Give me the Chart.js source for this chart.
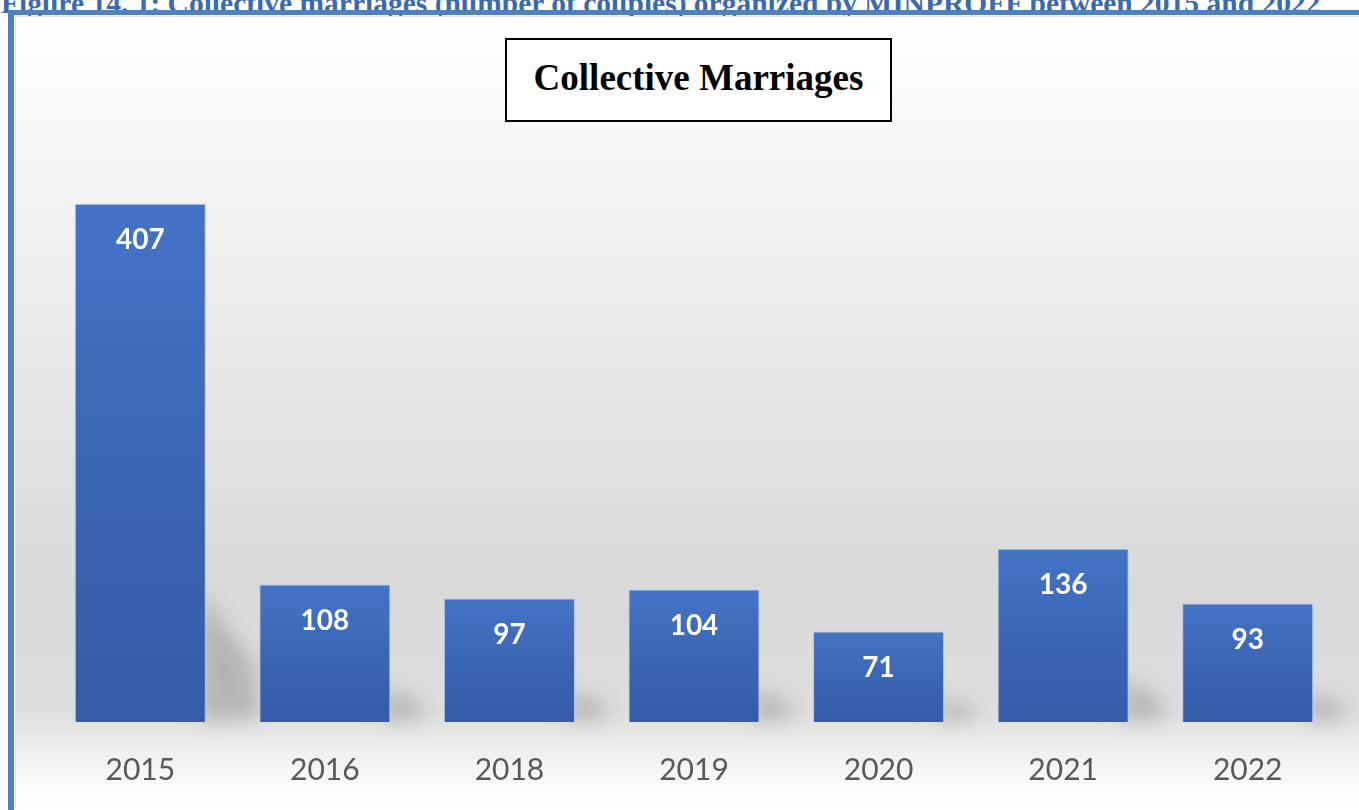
<!DOCTYPE html>
<html>
<head>
<meta charset="utf-8">
<script src="https://cdn.jsdelivr.net/npm/chart.js@4.4.1/dist/chart.umd.min.js"></script>
<style>
    html, body { margin: 0; padding: 0; background: #fff; overflow: hidden; }
    body { width: 1359px; height: 810px; position: relative; }
    #caption {
        position: absolute; left: 1px; top: -12px; white-space: nowrap;
        font-family: 'Liberation Serif', 'Times New Roman', serif; font-weight: bold;
        font-size: 29.5px; line-height: 30px; color: #3b69b0;
    }
    #frame {
        position: absolute; left: 8px; top: 10px; width: 1360px; height: 810px;
        border-left: 6px solid #4f81bd; border-top: 5px solid #4f81bd;
    }
    #box {
        position: absolute; left: 15px; top: 16px; width: 1344px; height: 792px;
        border: 1px solid #e3e3e3; border-right: none; box-sizing: border-box;
    }
    #chart { display: block; }
    #title {
        position: absolute; left: 505px; top: 38px; width: 387px; height: 84px;
        box-sizing: border-box; border: 2px solid #000; background: #fff;
        font-family: 'Liberation Serif', 'Times New Roman', serif; font-weight: bold;
        font-size: 37px; line-height: 37px; padding-top: 19px; text-align: center; color: #000;
    }
</style>
</head>
<body>
<div id="caption">Figure 14. 1: Collective marriages (number of couples) organized by MINPROFF between 2015 and 2022</div>
<div id="frame"></div>
<div id="box"><canvas id="chart" width="1343" height="791"></canvas></div>
<div id="title">Collective Marriages</div>

<script>
// data
var years = ['2015', '2016', '2018', '2019', '2020', '2021', '2022'];
var couples = [407, 108, 97, 104, 71, 136, 93];
var yMax = 450;

// gray backdrop like the office chart style
var backdrop = {
    id: 'backdrop',
    beforeDraw: function (chart) {
        var ctx = chart.ctx;
        var h = chart.height;
        var g = ctx.createLinearGradient(0, 0, 0, h);
        g.addColorStop(0, '#ffffff');
        g.addColorStop(0.17, '#f6f6f6');
        g.addColorStop(0.48, '#e5e5e5');
        g.addColorStop(0.72, '#d9d9d9');
        g.addColorStop(0.88, '#dedede');
        g.addColorStop(0.93, '#f0f0f0');
        g.addColorStop(0.98, '#fcfcfc');
        g.addColorStop(1, '#ffffff');
        ctx.save();
        ctx.fillStyle = g;
        ctx.fillRect(0, 0, chart.width, h);
        ctx.restore();
    }
};

// soft slanted shadow behind each bar
var barShadow = {
    id: 'barShadow',
    beforeDatasetsDraw: function (chart) {
        var ctx = chart.ctx;
        var meta = chart.getDatasetMeta(0);
        ctx.save();
        ctx.filter = 'blur(10px)';
        ctx.fillStyle = 'rgba(90,90,90,0.3)';
        meta.data.forEach(function (bar) {
            var right = bar.x + bar.width / 2;
            var h = bar.base - bar.y;
            var dx = 22 + 0.05 * h;
            ctx.beginPath();
            ctx.moveTo(right - 6, bar.base - 0.25 * h);
            ctx.lineTo(right + dx, bar.base - 0.1 * h - 6);
            ctx.lineTo(right + dx + 6, bar.base - 4);
            ctx.lineTo(right - 6, bar.base);
            ctx.closePath();
            ctx.fill();
        });
        ctx.restore();
    }
};

// white value inside the top of each bar
var valueLabels = {
    id: 'valueLabels',
    afterDatasetsDraw: function (chart) {
        var ctx = chart.ctx;
        var meta = chart.getDatasetMeta(0);
        ctx.save();
        ctx.font = 'bold 28px Lato, "Open Sans", sans-serif';
        ctx.fillStyle = '#ffffff';
        ctx.textAlign = 'center';
        ctx.textBaseline = 'middle';
        meta.data.forEach(function (bar, i) {
            ctx.fillText(couples[i], bar.x, bar.y + 36);
        });
        ctx.restore();
    }
};

function barFill(context) {
    var chart = context.chart;
    var y = chart.scales.y;
    if (!chart.chartArea || !y || context.raw === undefined) return '#4170c0';
    var top = y.getPixelForValue(context.raw);
    var bottom = y.getPixelForValue(0);
    var g = chart.ctx.createLinearGradient(0, top, 0, bottom);
    g.addColorStop(0, '#4473c6');
    g.addColorStop(0.5, '#3b66b6');
    g.addColorStop(1, '#345ca8');
    return g;
}

var ctx = document.getElementById('chart').getContext('2d');
var chart = new Chart(ctx, {
    type: 'bar',
    data: {
        labels: years,
        datasets: [{
            data: couples,
            backgroundColor: barFill,
            borderColor: 'rgba(160,190,235,0.8)',
            borderWidth: 1,
            barPercentage: 0.71,
            categoryPercentage: 1
        }]
    },
    options: {
        responsive: false,
        animation: false,
        layout: { padding: { left: 32, right: 19, top: 132, bottom: -10 } },
        plugins: { legend: { display: false }, tooltip: { enabled: false } },
        scales: {
            x: {
                grid: { display: false, drawTicks: false },
                border: { display: false },
                ticks: {
                    padding: 30,
                    color: '#595959',
                    font: { family: 'Lato, "Open Sans", sans-serif', size: 30 }
                }
            },
            y: { display: false, min: 0, max: yMax }
        }
    },
    plugins: [backdrop, barShadow, valueLabels]
});
</script>
</body>
</html>
